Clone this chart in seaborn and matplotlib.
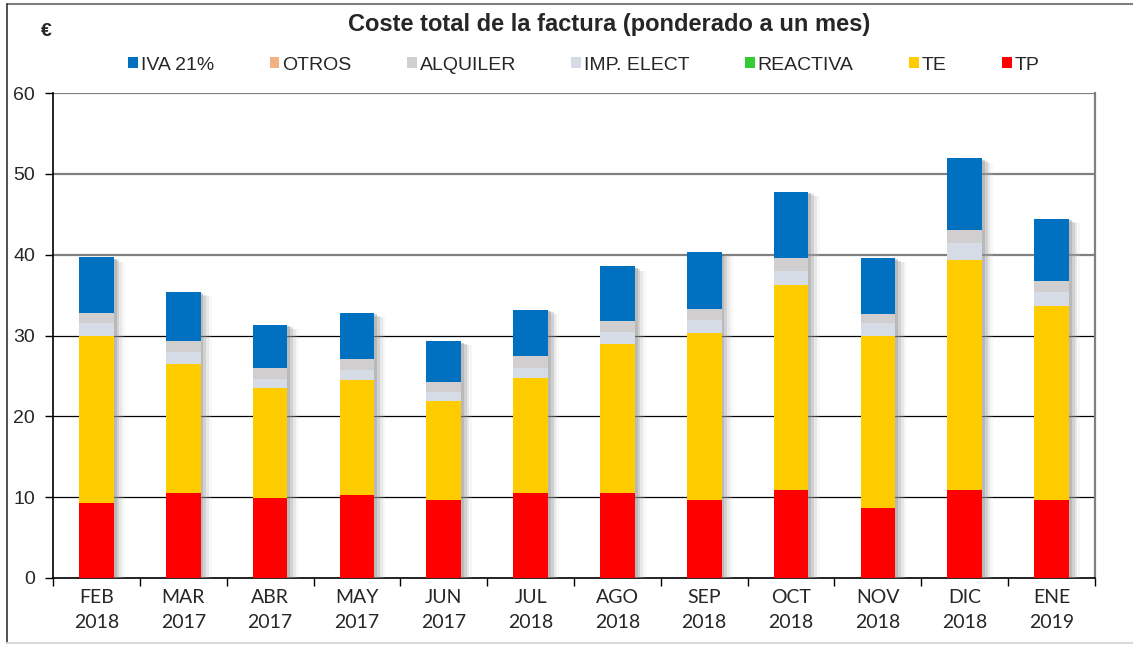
import numpy as np
import pandas as pd
import matplotlib
matplotlib.use("Agg")
import matplotlib.pyplot as plt
import matplotlib.patheffects as pe
from matplotlib.patches import Patch
from matplotlib.lines import Line2D
import seaborn as sns

# Chart data (EUR per month)
meses = ["FEB\n2018", "MAR\n2017", "ABR\n2017", "MAY\n2017", "JUN\n2017", "JUL\n2018",
         "AGO\n2018", "SEP\n2018", "OCT\n2018", "NOV\n2018", "DIC\n2018", "ENE\n2019"]
tp = [9.3, 10.5, 9.9, 10.3, 9.65, 10.5, 10.5, 9.65, 10.9, 8.65, 10.9, 9.65]
te = [20.7, 16.0, 13.6, 14.2, 12.25, 14.3, 18.4, 20.7, 25.3, 21.35, 28.5, 24.0]
reactiva = [0.0] * 12
imp_elect = [1.5, 1.4, 1.15, 1.2, 1.1, 1.2, 1.5, 1.55, 1.8, 1.5, 2.0, 1.7]
alquiler = [1.25, 1.4, 1.3, 1.4, 1.2, 1.5, 1.45, 1.35, 1.55, 1.2, 1.6, 1.35]
otros = [0.0] * 12
iva = [6.9, 6.1, 5.4, 5.7, 5.1, 5.7, 6.7, 7.05, 8.25, 6.9, 8.9, 7.7]

# stacking order bottom -> top
series = ["TP", "TE", "REACTIVA", "IMP. ELECT", "ALQUILER", "OTROS", "IVA 21%"]
values = [tp, te, reactiva, imp_elect, alquiler, otros, iva]
colors = {"TP": "#FF0000", "TE": "#FFCC00", "REACTIVA": "#33CC33",
          "IMP. ELECT": "#D6DCE5", "ALQUILER": "#D0CECE", "OTROS": "#F4B183",
          "IVA 21%": "#0070C0"}

df = pd.DataFrame(dict(zip(series, values)), index=meses)
cum = df.cumsum(axis=1)

sns.set_style("white")
plt.rcParams["font.family"] = ["Liberation Sans", "DejaVu Sans"]

fig = plt.figure(figsize=(11.33, 6.46), dpi=100)
ax = fig.add_axes([53 / 1133, 1 - 578 / 646, (1095 - 53) / 1133, (578 - 93) / 646])

shadow = [pe.SimplePatchShadow(offset=(2, -1), shadow_rgbFace="0.4", alpha=0.3),
          pe.SimplePatchShadow(offset=(4, -2), shadow_rgbFace="0.5", alpha=0.25),
          pe.SimplePatchShadow(offset=(6, -3), shadow_rgbFace="0.65", alpha=0.2),
          pe.SimplePatchShadow(offset=(8, -3), shadow_rgbFace="0.8", alpha=0.15),
          pe.Normal()]

# draw from the top of the stack down so each layer covers the one above
for i, name in enumerate(reversed(series)):
    kw = {"path_effects": shadow} if i == 0 else {}
    sns.barplot(x=cum.index, y=cum[name].values, color=colors[name], saturation=1,
                width=0.4, errorbar=None, ax=ax, linewidth=0, zorder=3, **kw)

ax.set_ylim(0, 60)
ax.set_xlim(-0.5, len(meses) - 0.5)
ax.set_yticks(np.arange(0, 61, 10))
ax.set_xlabel("")
ax.set_ylabel("")

ax.yaxis.grid(True, zorder=0)
for val, gl in zip(ax.get_yticks(), ax.get_ygridlines()):
    if val >= 40:
        gl.set_color("#808080")
        gl.set_linewidth(1.6)
    else:
        gl.set_color("black")
        gl.set_linewidth(0.9)
ax.set_axisbelow(True)

for s in ["left", "bottom"]:
    ax.spines[s].set_color("black")
    ax.spines[s].set_linewidth(1.2)
ax.spines["right"].set_color("#808080")
ax.spines["right"].set_linewidth(1.6)
ax.spines["top"].set_visible(False)

ax.tick_params(axis="y", direction="out", length=6, width=1, color="black",
               labelsize=14, pad=7, left=True)
ax.set_xticks(np.arange(-0.5, len(meses), 1), minor=True)
ax.tick_params(axis="x", which="minor", direction="out", length=6, width=1, color="black", bottom=True)
ax.tick_params(axis="x", which="major", length=0, pad=8)
for lab in ax.get_xticklabels():
    lab.set_fontfamily(["Lato", "DejaVu Sans"])
    lab.set_fontsize(14)
    lab.set_linespacing(1.55)

fig.text(609 / 1133, 1 - 25 / 646, "Coste total de la factura (ponderado a un mes)",
         ha="center", va="center", fontsize=17, fontweight="bold")
fig.text(46 / 1133, 1 - 32 / 646, "€", ha="center", va="center", fontsize=14, fontweight="bold")

handles = [Patch(facecolor=colors[n], edgecolor="none") for n in reversed(series)]
fig.legend(handles, list(reversed(series)), loc="center", bbox_to_anchor=(584 / 1133, 1 - 65 / 646),
           ncol=7, frameon=False, fontsize=14, handlelength=0.5, handleheight=0.5,
           handletextpad=0.15, columnspacing=2.85)

# outer chart frame
fig.add_artist(Line2D([7 / 1133, 1], [1 - 4 / 646, 1 - 4 / 646], color="#7f7f7f", lw=1.5, transform=fig.transFigure))
fig.add_artist(Line2D([7 / 1133, 7 / 1133], [1 - 4 / 646, 1 - 643 / 646], color="#333333", lw=1.2, transform=fig.transFigure))
fig.add_artist(Line2D([7 / 1133, 1], [1 - 643 / 646, 1 - 643 / 646], color="#d9d9d9", lw=1.5, transform=fig.transFigure))

fig.savefig("out.png", dpi=100)
